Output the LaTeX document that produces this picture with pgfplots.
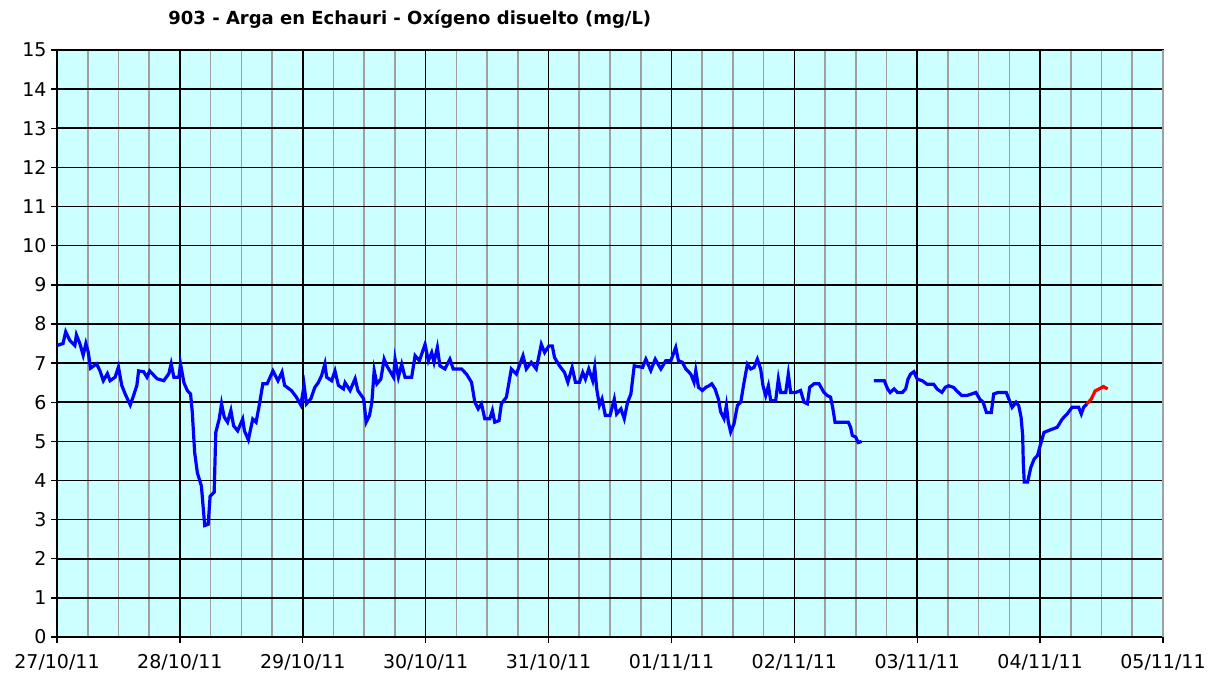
\documentclass[border=0pt]{standalone}
\usepackage{pgfplots}
\pgfplotsset{compat=1.18}
\usepackage{fontspec}
\setmainfont{DejaVu Sans}
\definecolor{bgc}{RGB}{204,255,255}
\definecolor{gridgray}{RGB}{160,160,160}
\definecolor{lblue}{RGB}{0,0,255}
\definecolor{lred}{RGB}{255,0,0}
\begin{document}
\begin{tikzpicture}
\begin{axis}[
  scale only axis,
  width=1106pt, height=587pt,
  xmin=0, xmax=9, ymin=0, ymax=15,
  xtick={0,1,2,3,4,5,6,7,8,9},
  xticklabels={27/10/11,28/10/11,29/10/11,30/10/11,31/10/11,01/11/11,02/11/11,03/11/11,04/11/11,05/11/11},
  minor xtick={0.25,0.5,0.75,1.25,1.5,1.75,2.25,2.5,2.75,3.25,3.5,3.75,4.25,4.5,4.75,5.25,5.5,5.75,6.25,6.5,6.75,7.25,7.5,7.75,8.25,8.5,8.75},
  ytick={0,1,2,3,4,5,6,7,8,9,10,11,12,13,14,15},
  xmajorgrids, ymajorgrids, xminorgrids,
  every major grid/.style={black, line width=1.6pt},
  every minor grid/.style={gridgray, line width=1.6pt},
  axis background/.style={fill=bgc},
  axis line style={black, line width=1.6pt},
  tick align=outside,
  tick pos=left,
  major tick length=6pt,
  minor tick length=0pt,
  tick style={black, line width=1.4pt},
  /pgf/number format/assume math mode=true,
  ticklabel style={font=\fontsize{19}{21}\selectfont},
  xticklabel style={yshift=-8pt},
  yticklabel style={xshift=-1pt},
]
\coordinate (sw) at (rel axis cs:0,0);
\coordinate (ne) at (rel axis cs:1,1);
\coordinate (tt) at (rel axis cs:0.319,1);
\addplot[lblue, line width=3.2pt] coordinates {
(0,7.45)(0.049,7.5)(0.071,7.8)(0.104,7.58)(0.145,7.45)(0.158,7.72)(0.186,7.5)(0.213,7.2)(0.235,7.5)(0.254,7.28)
(0.273,6.87)(0.322,6.98)(0.350,6.8)(0.377,6.55)(0.410,6.73)(0.432,6.55)(0.473,6.64)(0.500,6.9)(0.527,6.43)(0.555,6.21)
(0.596,5.93)(0.623,6.17)(0.650,6.43)(0.664,6.8)(0.705,6.78)(0.732,6.64)(0.754,6.8)(0.814,6.6)(0.869,6.55)(0.910,6.73)
(0.929,6.98)(0.951,6.64)(0.992,6.64)(1.005,6.98)(1.033,6.5)(1.060,6.3)(1.087,6.21)(1.101,5.74)(1.120,4.72)(1.142,4.2)
(1.175,3.86)(1.202,2.85)(1.230,2.88)(1.246,3.6)(1.279,3.7)(1.292,5.23)(1.320,5.57)(1.339,5.96)(1.361,5.62)(1.388,5.49)
(1.415,5.79)(1.437,5.4)(1.470,5.27)(1.511,5.57)(1.525,5.27)(1.557,5.04)(1.593,5.57)(1.620,5.49)(1.648,5.96)(1.675,6.47)
(1.710,6.47)(1.757,6.8)(1.798,6.55)(1.831,6.77)(1.852,6.43)(1.907,6.3)(1.948,6.13)(1.984,5.93)(2.011,6.43)(2.030,5.96)
(2.066,6.09)(2.098,6.38)(2.126,6.5)(2.153,6.68)(2.180,6.98)(2.194,6.64)(2.235,6.55)(2.262,6.8)(2.290,6.43)(2.331,6.34)
(2.344,6.5)(2.385,6.3)(2.426,6.6)(2.448,6.3)(2.495,6.09)
(2.516,5.49)(2.543,5.66)(2.562,6.0)(2.581,6.81)(2.603,6.47)(2.635,6.59)(2.662,7.1)(2.684,6.93)(2.716,6.76)(2.738,6.64)
(2.751,7.1)(2.778,6.64)(2.805,6.97)(2.832,6.64)(2.886,6.64)(2.914,7.19)(2.949,7.06)(2.995,7.48)(3.022,7.06)(3.049,7.27)
(3.068,7.02)(3.095,7.4)(3.116,6.93)(3.157,6.85)(3.197,7.1)(3.224,6.85)(3.292,6.85)(3.332,6.72)(3.373,6.51)(3.400,6.0)
(3.427,5.83)(3.454,5.96)(3.481,5.58)(3.522,5.58)(3.543,5.79)(3.562,5.49)(3.597,5.53)(3.616,5.96)(3.657,6.13)(3.697,6.85)
(3.738,6.72)(3.792,7.19)(3.819,6.85)(3.859,7.02)(3.900,6.85)(3.941,7.48)(3.968,7.27)(4.003,7.44)(4.030,7.44)(4.049,7.14)
(4.089,6.93)(4.130,6.76)(4.157,6.51)(4.192,6.89)(4.219,6.51)(4.251,6.51)(4.278,6.76)(4.300,6.59)(4.327,6.85)(4.359,6.55)
(4.376,6.89)(4.392,6.34)(4.414,5.92)(4.435,6.08)(4.462,5.66)(4.500,5.66)(4.535,6.08)(4.554,5.7)(4.589,5.83)(4.616,5.58)
(4.643,6.0)(4.670,6.21)(4.697,6.93)(4.765,6.89)(4.792,7.1)(4.832,6.81)(4.868,7.1)(4.914,6.85)(4.954,7.06)(4.995,7.06)
(5.035,7.4)(5.057,7.06)(5.089,7.02)(5.117,6.85)(5.157,6.72)(5.184,6.51)(5.198,6.81)(5.220,6.38)(5.252,6.3)(5.279,6.38)
(5.306,6.42)(5.328,6.47)(5.355,6.34)(5.382,6.08)(5.401,5.75)(5.428,5.58)(5.447,5.92)(5.463,5.49)(5.482,5.24)(5.509,5.45)
(5.537,5.92)(5.564,6.0)(5.591,6.51)(5.618,6.97)(5.645,6.85)(5.672,6.89)(5.699,7.1)(5.726,6.85)(5.745,6.42)(5.767,6.17)
(5.789,6.42)(5.808,6.04)(5.848,6.04)(5.870,6.59)(5.889,6.25)(5.930,6.25)(5.951,6.72)(5.970,6.25)(6.011,6.25)(6.051,6.3)
(6.079,6.0)(6.106,5.96)(6.125,6.38)(6.160,6.47)(6.201,6.47)(6.241,6.25)(6.268,6.17)(6.295,6.13)(6.314,5.83)(6.331,5.49)
(6.377,5.49)(6.439,5.49)(6.458,5.36)(6.472,5.15)(6.499,5.11)(6.520,4.97)(6.547,5.0)
};
\addplot[lblue, line width=3.2pt] coordinates {
(6.648,6.55)(6.732,6.55)(6.759,6.34)(6.780,6.25)(6.812,6.34)(6.839,6.25)(6.879,6.25)(6.906,6.34)(6.925,6.59)(6.946,6.72)
(6.973,6.78)(7.000,6.59)(7.040,6.55)(7.080,6.46)(7.134,6.46)(7.161,6.34)(7.201,6.25)(7.228,6.38)(7.255,6.42)(7.295,6.38)
(7.322,6.29)(7.362,6.17)(7.402,6.17)(7.442,6.21)(7.477,6.25)(7.509,6.08)(7.536,6.0)(7.563,5.74)(7.603,5.74)(7.622,6.21)
(7.657,6.25)(7.724,6.25)(7.751,6.04)(7.772,5.87)(7.804,6.0)(7.826,5.91)(7.845,5.62)(7.858,5.15)(7.863,4.47)(7.871,3.96)
(7.898,3.96)(7.925,4.34)(7.952,4.55)(7.979,4.64)(8.005,4.94)(8.032,5.23)(8.072,5.28)(8.139,5.36)(8.180,5.57)(8.220,5.7)
(8.260,5.87)(8.314,5.87)(8.335,5.7)(8.354,5.87)(8.381,5.96)
};
\addplot[lred, line width=3.2pt] coordinates {
(8.381,5.96)(8.416,6.08)(8.448,6.29)(8.480,6.34)(8.515,6.4)(8.550,6.34)
};
\end{axis}
\draw[gridgray, line width=1.6pt] (ne) -- (ne|-sw);
\node[anchor=base, font=\bfseries\fontsize{18}{21}\selectfont] at ([yshift=25pt]tt) {903 - Arga en Echauri - Oxígeno disuelto (mg/L)};
\path (sw) ++(-57pt,-40pt) rectangle ([shift={(58pt,50pt)}]ne);
\end{tikzpicture}
\end{document}
